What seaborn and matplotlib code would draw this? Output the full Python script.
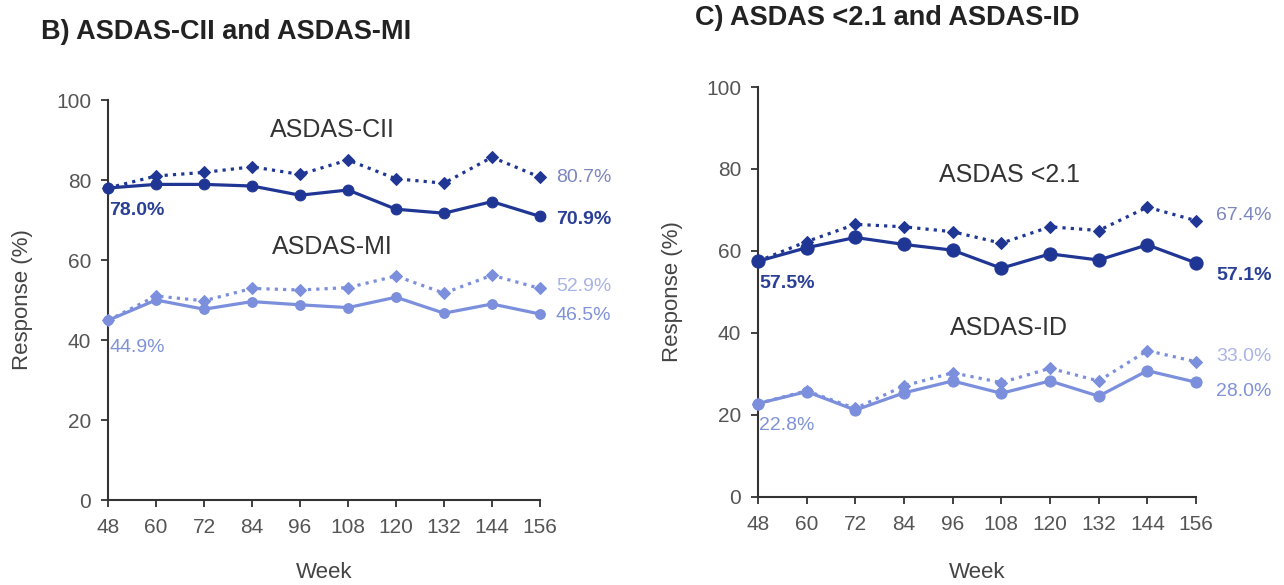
import matplotlib
matplotlib.use("Agg")
import matplotlib.pyplot as plt
import seaborn as sns
import pandas as pd

weeks = [48, 60, 72, 84, 96, 108, 120, 132, 144, 156]

cii_solid = [78.0, 78.9, 78.9, 78.5, 76.2, 77.5, 72.7, 71.7, 74.6, 70.9]
cii_dotted = [78.0, 81.0, 81.9, 83.3, 81.4, 85.0, 80.3, 79.2, 85.7, 80.7]
mi_solid = [44.9, 50.0, 47.7, 49.6, 48.8, 48.1, 50.7, 46.7, 49.0, 46.5]
mi_dotted = [44.9, 51.0, 49.8, 52.9, 52.5, 53.1, 56.0, 51.7, 56.2, 52.9]

lda_solid = [57.5, 60.8, 63.3, 61.6, 60.2, 55.8, 59.3, 57.8, 61.5, 57.1]
lda_dotted = [57.5, 62.3, 66.5, 65.9, 64.7, 61.9, 65.9, 65.0, 70.7, 67.4]
id_solid = [22.8, 25.7, 21.2, 25.4, 28.3, 25.3, 28.3, 24.6, 30.8, 28.0]
id_dotted = [22.8, 25.9, 21.6, 27.1, 30.3, 27.9, 31.4, 28.3, 35.7, 33.0]

titles = ["B) ASDAS-CII and ASDAS-MI", "C) ASDAS <2.1 and ASDAS-ID"]
group_labels = [["ASDAS-CII", "ASDAS-MI"], ["ASDAS <2.1", "ASDAS-ID"]]
yticks = [0, 20, 40, 60, 80, 100]

DARK = "#1f3694"
LIGHT = "#7b8fdc"
LBL_DARK = "#2a3f96"
LBL_GRAYBLUE = "#7c86bf"
LBL_LAVENDER = "#a9b3e6"
LBL_MED = "#7f92d8"

sns.set_theme(style="white")
plt.rcParams["font.family"] = ["Liberation Sans", "DejaVu Sans"]

fig = plt.figure(figsize=(12.84, 5.85), dpi=100)
axL = fig.add_axes([108/1284, 1-500/585, 432/1284, 400/585])
axR = fig.add_axes([758/1284, 1-497/585, 438/1284, 410/585])

def draw(ax, upper_solid, upper_dotted, lower_solid, lower_dotted, dsize, lsize, xpad):
    df = pd.DataFrame({"week": weeks})
    series = [
        (lower_dotted, LIGHT, (0, (1, 1.6)), "D", 6.5),
        (lower_solid, LIGHT, "-", "o", lsize),
        (upper_dotted, DARK, (0, (1, 1.6)), "D", 6.5),
        (upper_solid, DARK, "-", "o", dsize),
    ]
    for vals, col, ls, mk, ms in series:
        d = df.assign(v=vals)
        sns.lineplot(data=d, x="week", y="v", ax=ax, color=col, linestyle=ls,
                     linewidth=2.3, marker=mk, markersize=ms,
                     markeredgecolor=col, markerfacecolor=col, clip_on=False,
                     zorder=3)
    ax.set_xlim(48, 156)
    ax.set_ylim(0, 100)
    ax.set_xticks(weeks)
    ax.set_xticklabels([str(w) for w in weeks])
    ax.set_yticks(yticks)
    ax.set_yticklabels([str(t) for t in yticks])
    for s in ["top", "right"]:
        ax.spines[s].set_visible(False)
    for s in ["left", "bottom"]:
        ax.spines[s].set_color("#333333")
        ax.spines[s].set_linewidth(1.5)
    ax.tick_params(axis="both", which="both", direction="out", length=5,
                   width=1.3, color="#333333", labelsize=15,
                   labelcolor="#555555", left=True, bottom=True)
    ax.tick_params(axis="x", pad=8)
    ax.tick_params(axis="y", pad=7)
    ax.set_xlabel("Week", fontsize=16, color="#444444", labelpad=xpad)
    ax.set_ylabel("Response (%)", fontsize=16, color="#444444", labelpad=17)
    ax.grid(False)

draw(axL, cii_solid, cii_dotted, mi_solid, mi_dotted, 7.8, 7, 18)
draw(axR, lda_solid, lda_dotted, id_solid, id_dotted, 9.5, 8, 20)

fig.text(41/1284, 1-32/585, titles[0], fontsize=19.5, fontweight="bold",
         color="#222222", va="center", ha="left")
fig.text(695/1284, 1-18/585, titles[1], fontsize=19.5, fontweight="bold",
         color="#222222", va="center", ha="left")

def label(ax, x, y, s, col, bold=False, dx=0):
    ax.annotate(s, xy=(x, y), xytext=(dx, 0), textcoords="offset points",
                fontsize=14, color=col, ha="left", va="center",
                fontweight="bold" if bold else "normal", annotation_clip=False)

# Left panel labels
axL.text(104, 92.5, group_labels[0][0], fontsize=18, color="#333333", ha="center", va="center")
axL.text(104, 63.2, group_labels[0][1], fontsize=18, color="#333333", ha="center", va="center")
label(axL, weeks[0], 72.3, f"{cii_solid[0]:.1f}%", LBL_DARK, bold=True, dx=1)
label(axL, weeks[0], 38.1, f"{mi_solid[0]:.1f}%", LBL_MED, dx=1)
label(axL, weeks[-1], cii_dotted[-1], f"{cii_dotted[-1]:.1f}%", LBL_GRAYBLUE, dx=11.5)
label(axL, weeks[-1], cii_solid[-1] - 0.9, f"{cii_solid[-1]:.1f}%", LBL_DARK, bold=True, dx=11.5)
label(axL, weeks[-1], mi_dotted[-1] + 0.4, f"{mi_dotted[-1]:.1f}%", LBL_LAVENDER, dx=11.5)
label(axL, weeks[-1], mi_solid[-1] - 0.4, f"{mi_solid[-1]:.1f}%", LBL_MED, dx=11.5)

# Right panel labels
axR.text(110, 78.5, group_labels[1][0], fontsize=18, color="#333333", ha="center", va="center")
axR.text(110, 41.3, group_labels[1][1], fontsize=18, color="#333333", ha="center", va="center")
label(axR, weeks[0], 52.1, f"{lda_solid[0]:.1f}%", LBL_DARK, bold=True, dx=1)
label(axR, weeks[0], 17.4, f"{id_solid[0]:.1f}%", LBL_MED, dx=1)
label(axR, weeks[-1], lda_dotted[-1] + 1.3, f"{lda_dotted[-1]:.1f}%", LBL_GRAYBLUE, dx=14.5)
label(axR, weeks[-1], lda_solid[-1] - 3.0, f"{lda_solid[-1]:.1f}%", LBL_DARK, bold=True, dx=14.5)
label(axR, weeks[-1], id_dotted[-1] + 1.2, f"{id_dotted[-1]:.1f}%", LBL_LAVENDER, dx=14.5)
label(axR, weeks[-1], id_solid[-1] - 2.2, f"{id_solid[-1]:.1f}%", LBL_MED, dx=14.5)

fig.savefig("out.png", dpi=100, facecolor="white")
